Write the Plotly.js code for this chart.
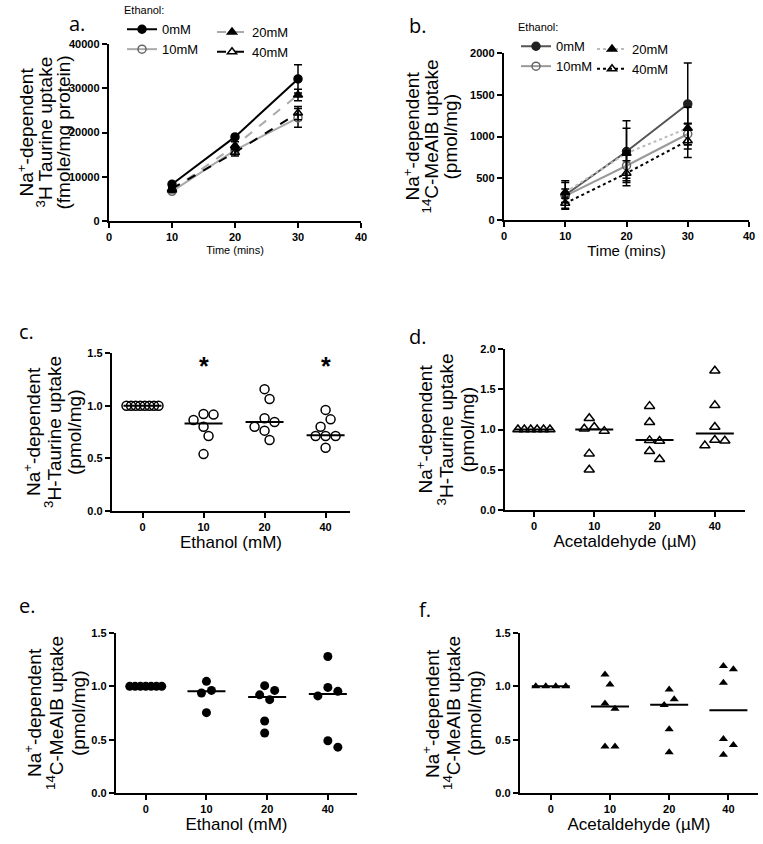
<!DOCTYPE html>
<html><head><meta charset="utf-8">
<script src="https://cdn.plot.ly/plotly-3.0.1.min.js"></script>
<style>html,body{margin:0;padding:0;background:#fff}#chart{width:763px;height:844px}</style>
</head><body><div id="chart"></div>
<script>
// ---------- data: panels a & b (time course) ----------
const timeMins = [10, 20, 30];
const seriesNames = ['0mM', '10mM', '20mM', '40mM'];
// a. 3H Taurine uptake (fmole/mg protein)
const taurine0 = [8300, 19000, 32100];
const taurine10 = [6700, 16000, 23300];
const taurine20 = [7000, 17000, 28500];
const taurine40 = [7300, 15500, 24400];
const taurine0Err = [400, 400, 3200];
const taurine10Err = [300, 900, 2100];
const taurine20Err = [300, 900, 1300];
const taurine40Err = [300, 800, 1500];
// b. 14C-MeAIB uptake (pmol/mg)
const meaib0 = [300, 820, 1390];
const meaib10 = [290, 650, 1030];
const meaib20 = [330, 800, 1100];
const meaib40 = [200, 560, 950];
const meaib0Err = [170, 370, 490];
const meaib10Err = [80, 180, 130];
const meaib20Err = [120, 300, 250];
const meaib40Err = [60, 150, 200];

// ---------- data: panels c-f (normalised uptake per dose) ----------
const doseLabels = ['0', '10', '20', '40'];
const cTaurineEthanol = [[1,1,1,1,1,1,1,1],[0.921,0.915,0.864,0.80,0.712,0.54],[1.157,1.064,0.88,0.845,0.80,0.763,0.674],[0.96,0.87,0.80,0.712,0.712,0.712,0.60]];
const cMedians = [1.0, 0.83, 0.845, 0.718];
const dTaurineAcet = [[1,1,1,1,1,1],[1.14,1.03,1.01,0.98,0.70,0.50],[1.29,1.09,0.865,0.857,0.73,0.63],[1.73,1.30,1.03,0.87,0.86,0.80]];
const dMedians = [1.0, 1.0, 0.87, 0.95];
const eMeaibEthanol = [[1,1,1,1,1,1,1],[1.047,0.962,0.937,0.753],[1.006,0.962,0.92,0.875,0.675,0.562],[1.28,0.99,0.953,0.91,0.49,0.43]];
const eMedians = [1.0, 0.953, 0.90, 0.928];
const fMeaibAcet = [[1,1,1,1],[1.111,1.018,0.84,0.79,0.436,0.436],[0.971,0.878,0.825,0.598,0.383],[1.19,1.16,1.033,0.507,0.451,0.358]];
const fMedians = [1.0, 0.81, 0.828, 0.775];

// ---------- layout geometry (pixels) ----------
const W = 763, H = 844;
const G = {
  a: {x0:109, x1:361, y0:44, y1:221},
  b: {x0:504, x1:749, y0:53, y1:220},
  c: {x0:112, x1:350, y0:353, y1:511, yr:[0,1.5], xr:[-0.5,3.4]},
  d: {x0:505, x1:745, y0:349, y1:510, yr:[0,2.0], xr:[-0.48,3.5]},
  e: {x0:116, x1:357, y0:633, y1:793, yr:[0,1.5], xr:[-0.49,3.48]},
  f: {x0:520, x1:758, y0:633, y1:793, yr:[0,1.5], xr:[-0.52,3.5]}
};
const FONT = "'Liberation Sans', Arial, Helvetica, sans-serif";
const dx = g => [g.x0 / W, g.x1 / W];
const dy = g => [1 - g.y1 / H, 1 - g.y0 / H];

function baseAxis(extra) {
  return Object.assign({
    showline: true, linecolor: '#000', linewidth: 2.2, mirror: false,
    ticks: 'outside', ticklen: 5, tickwidth: 2, tickcolor: '#000',
    showgrid: false, zeroline: false,
    tickfont: {family: FONT, size: 11, color: '#000', weight: 'bold'}
  }, extra);
}

// simple beeswarm: spreads points of one column so markers do not overlap
function swarm(vals, pxPerY, pxPerX, D, maxSpan) {
  const order = vals.map((v, i) => i).sort((i, j) => vals[j] - vals[i]);
  const off = new Array(vals.length).fill(0);
  const placed = [];
  const cands = [0];
  for (let k = 1; k < 40; k++) cands.push(k * 0.5, -k * 0.5);
  for (const i of order) {
    for (const c of cands) {
      const ok = placed.every(p => {
        const ddx = (c - p.c) * D, ddy = (vals[i] - p.v) * pxPerY;
        return ddx * ddx + ddy * ddy >= D * D - 1e-6;
      });
      if (ok) { off[i] = c; placed.push({c: c, v: vals[i]}); break; }
    }
  }
  const mn = Math.min(...off), mx = Math.max(...off);
  let px = off.map(o => (o - (mn + mx) / 2) * D);
  const span = (mx - mn) * D;
  if (span > maxSpan) { const s = maxSpan / span; px = px.map(p => p * s); }
  return px.map(p => p / pxPerX);
}

const traces = [];
// ---------- panels a and b ----------
function timeTraces(vals, errs, styles, xa, ya, legends) {
  vals.forEach((v, i) => {
    const s = styles[i];
    traces.push({
      type: 'scatter', mode: 'lines+markers', x: timeMins, y: v,
      name: seriesNames[i], xaxis: xa, yaxis: ya,
      legend: legends[i < 2 ? 0 : 1], showlegend: true,
      line: {color: s.lc, width: 2, dash: s.dash || 'solid'},
      marker: {symbol: s.sym, size: 8, color: s.mc, line: {color: s.mc, width: 1.5}},
      error_y: {type: 'data', array: errs[i], visible: true, color: '#000', thickness: 1.5, width: 4}
    });
  });
}
timeTraces([taurine0, taurine10, taurine20, taurine40],
  [taurine0Err, taurine10Err, taurine20Err, taurine40Err],
  [{lc:'#000', sym:'circle', mc:'#000'},
   {lc:'#aaa', sym:'circle-open', mc:'#666'},
   {lc:'#aaa', sym:'triangle-up', mc:'#000', dash:'dash'},
   {lc:'#000', sym:'triangle-up-open', mc:'#000', dash:'dash'}],
  'x', 'y', ['legend', 'legend2']);
timeTraces([meaib0, meaib10, meaib20, meaib40],
  [meaib0Err, meaib10Err, meaib20Err, meaib40Err],
  [{lc:'#555', sym:'circle', mc:'#222'},
   {lc:'#999', sym:'circle-open', mc:'#666'},
   {lc:'#bbb', sym:'triangle-up', mc:'#000', dash:'dot'},
   {lc:'#000', sym:'triangle-up-open', mc:'#000', dash:'dot'}],
  'x2', 'y2', ['legend3', 'legend4']);

// ---------- panels c-f ----------
function dotPanel(groups, medians, g, xa, ya, marker) {
  const pxPerY = (g.y1 - g.y0) / (g.yr[1] - g.yr[0]);
  const pxPerX = (g.x1 - g.x0) / (g.xr[1] - g.xr[0]);
  const xs = [], ys = [];
  groups.forEach((vals, ci) => {
    const offs = swarm(vals, pxPerY, pxPerX, 10, 32);
    vals.forEach((v, k) => { xs.push(ci + offs[k]); ys.push(v); });
  });
  const hw = 19 / pxPerX;
  const mx = [], my = [];
  medians.forEach((m, ci) => { mx.push(ci - hw, ci + hw, null); my.push(m, m, null); });
  traces.push({type: 'scatter', mode: 'lines', x: mx, y: my, xaxis: xa, yaxis: ya,
    showlegend: false, hoverinfo: 'skip', line: {color: '#000', width: 2}});
  traces.push({type: 'scatter', mode: 'markers', x: xs, y: ys, xaxis: xa, yaxis: ya,
    showlegend: false, marker: marker});
}
const openMk = sym => ({symbol: sym, size: 9, color: '#000', line: {color: '#000', width: 1.5}});
dotPanel(cTaurineEthanol, cMedians, G.c, 'x3', 'y3', openMk('circle-open'));
dotPanel(dTaurineAcet, dMedians, G.d, 'x4', 'y4', openMk('triangle-up-open'));
dotPanel(eMeaibEthanol, eMedians, G.e, 'x5', 'y5', {symbol: 'circle', size: 9, color: '#000'});
dotPanel(fMeaibAcet, fMedians, G.f, 'x6', 'y6', {symbol: 'triangle-up', size: 8, color: '#000'});

// ---------- layout ----------
const catX = (g, anchor, title) => baseAxis({domain: dx(g), anchor: anchor, range: g.xr,
  tickmode: 'array', tickvals: [0, 1, 2, 3], ticktext: doseLabels,
  title: {text: title, font: {family: FONT, size: 17, color: '#000'}, standoff: 4}});
const valY = (g, anchor, dt) => baseAxis({domain: dy(g), anchor: anchor, range: g.yr,
  tickmode: 'linear', tick0: 0, dtick: dt, tickformat: '.1f'});

const legendBase = {xanchor: 'left', yanchor: 'top', bgcolor: 'rgba(0,0,0,0)', borderwidth: 0,
  font: {family: FONT, size: 13, color: '#000'}, itemwidth: 30, tracegroupgap: 0};
const legTitle = {text: 'Ethanol:', font: {family: FONT, size: 11, color: '#000'}};

const layout = {
  width: W, height: H, margin: {l: 0, r: 0, t: 0, b: 0},
  paper_bgcolor: '#fff', plot_bgcolor: 'rgba(0,0,0,0)',
  font: {family: FONT, color: '#000'},
  xaxis: baseAxis({domain: dx(G.a), anchor: 'y', range: [0, 40], tickmode: 'linear', tick0: 0, dtick: 10,
    title: {text: 'Time (mins)', font: {family: FONT, size: 11, color: '#000'}, standoff: 4}}),
  yaxis: baseAxis({domain: dy(G.a), anchor: 'x', range: [0, 40000], tickmode: 'linear', tick0: 0, dtick: 10000, tickformat: 'd'}),
  xaxis2: baseAxis({domain: dx(G.b), anchor: 'y2', range: [0, 40], tickmode: 'linear', tick0: 0, dtick: 10,
    title: {text: 'Time (mins)', font: {family: FONT, size: 15, color: '#000'}, standoff: 2}}),
  yaxis2: baseAxis({domain: dy(G.b), anchor: 'x2', range: [0, 2000], tickmode: 'linear', tick0: 0, dtick: 500, tickformat: 'd'}),
  xaxis3: catX(G.c, 'y3', 'Ethanol (mM)'),
  yaxis3: valY(G.c, 'x3', 0.5),
  xaxis4: catX(G.d, 'y4', 'Acetaldehyde (\u00b5M)'),
  yaxis4: valY(G.d, 'x4', 0.5),
  xaxis5: catX(G.e, 'y5', 'Ethanol (mM)'),
  yaxis5: valY(G.e, 'x5', 0.5),
  xaxis6: catX(G.f, 'y6', 'Acetaldehyde (\u00b5M)'),
  yaxis6: valY(G.f, 'x6', 0.5),
  legend: Object.assign({}, legendBase, {x: 122 / W, y: 1 - 0 / H, title: legTitle}),
  legend2: Object.assign({}, legendBase, {x: 212 / W, y: 1 - 17 / H}),
  legend3: Object.assign({}, legendBase, {x: 516 / W, y: 1 - 17 / H, title: legTitle}),
  legend4: Object.assign({}, legendBase, {x: 592 / W, y: 1 - 34 / H}),
  annotations: []
};

// y-axis titles: three rotated lines each
const yTitles = [
  {lines: ['Na<sup>+</sup>-dependent', '<sup>3</sup>H Taurine uptake', '(fmole/mg protein)'], xs: [26, 45, 63], g: G.a},
  {lines: ['Na<sup>+</sup>-dependent', '<sup>14</sup>C-MeAIB uptake', '(pmol/mg)'], xs: [411, 430, 450], g: G.b},
  {lines: ['Na<sup>+</sup>-dependent', '<sup>3</sup>H-Taurine uptake', '(pmol/mg)'], xs: [32, 53, 75], g: G.c},
  {lines: ['Na<sup>+</sup>-dependent', '<sup>3</sup>H-Taurine uptake', '(pmol/mg)'], xs: [424, 445, 467], g: G.d},
  {lines: ['Na<sup>+</sup>-dependent', '<sup>14</sup>C-MeAIB uptake', '(pmol/mg)'], xs: [33, 55, 78], g: G.e},
  {lines: ['Na<sup>+</sup>-dependent', '<sup>14</sup>C-MeAIB uptake', '(pmol/mg)'], xs: [431, 452, 474], g: G.f}
];
yTitles.forEach(o => o.lines.forEach((t, k) => layout.annotations.push({
  text: t, xref: 'paper', yref: 'paper', x: o.xs[k] / W, y: 1 - ((o.g.y0 + o.g.y1) / 2) / H,
  xanchor: 'center', yanchor: 'middle', textangle: -90, showarrow: false,
  font: {family: FONT, size: 19, color: '#000'}
})));
// panel letters
[['a.', 67, 23], ['b.', 407, 25], ['c.', 17, 332], ['d.', 407, 337], ['e.', 17, 605], ['f.', 417, 609]]
  .forEach(p => layout.annotations.push({text: p[0], xref: 'paper', yref: 'paper', x: p[1] / W, y: 1 - p[2] / H,
    xanchor: 'left', yanchor: 'middle', showarrow: false, font: {family: 'Open Sans, sans-serif', size: 20, color: '#000'}}));
// significance asterisks (panel c)
[1, 3].forEach(ci => layout.annotations.push({text: '*', xref: 'x3', yref: 'y3', x: ci, y: 1.38,
  xanchor: 'center', yanchor: 'middle', showarrow: false, font: {family: FONT, size: 25, color: '#000', weight: 'bold'}}));

Plotly.newPlot('chart', traces, layout, {displayModeBar: false, staticPlot: true});
</script></body></html>
